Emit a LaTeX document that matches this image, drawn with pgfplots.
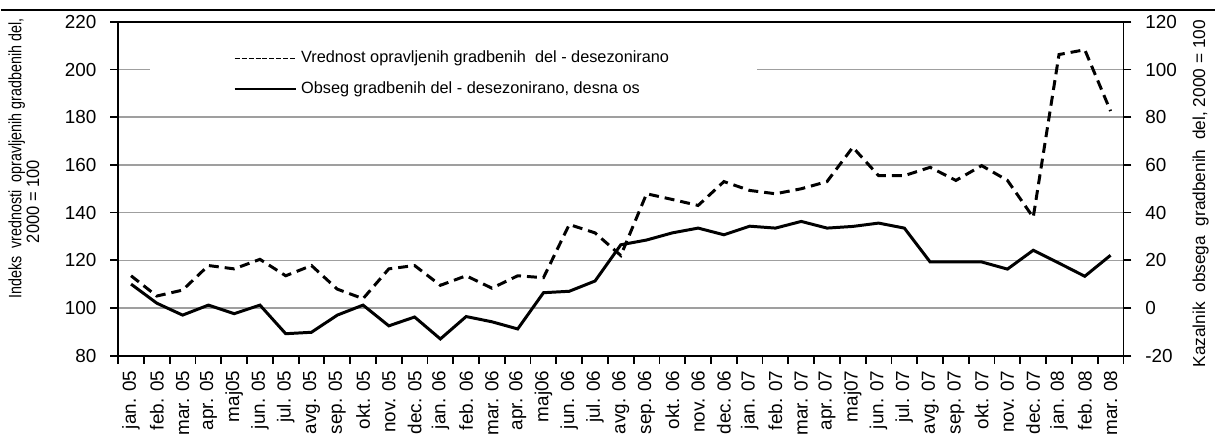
\documentclass[border=0pt]{standalone}
\usepackage{fontspec}
\setmainfont{Liberation Sans}
\usepackage{graphicx}
\usepackage{pgfplots}
\pgfplotsset{compat=1.18}
\pgfplotstableread{
x left right
0 113.5 10
1 105 2
2 107.5 -3
3 117.8 1.2
4 116.4 -2.4
5 120.4 1.2
6 113.5 -10.8
7 117.8 -10.2
8 107.9 -3
9 103.9 1.2
10 116.4 -7.5
11 117.8 -3.8
12 109.5 -13
13 113.5 -3.6
14 108.3 -5.8
15 113.5 -8.8
16 112.7 6.4
17 135 7
18 131.5 11.3
19 122 26.5
20 147.9 28.5
21 145.5 31.5
22 143 33.5
23 153 30.7
24 149.3 34.3
25 147.9 33.5
26 150 36.3
27 153 33.5
28 167.4 34.2
29 155.5 35.6
30 155.5 33.5
31 159 19.3
32 153.5 19.3
33 159.7 19.3
34 153.5 16.3
35 138 24.2
36 206.3 18.8
37 208.3 13.3
38 182.6 22.1
}\datatable
\newcommand{\fs}{\fontsize{9pt}{10pt}\selectfont}
\newcommand{\ft}{\fontsize{9.5pt}{11pt}\selectfont}
\begin{document}
\begin{tikzpicture}
\pgfplotsset{
  common/.style={
    scale only axis, width=506pt, height=168pt,
    xmin=-0.5, xmax=38.5,
    tick align=outside,
    major tick length=4pt,
    axis line style={line width=0.9pt},
    tick style={line width=0.9pt, black},
    tick label style={font=\ft},
    label style={font=\fs},
    /pgf/number format/assume math mode=true,
  }
}
\begin{axis}[common,
  ymin=80, ymax=220, ytick={80,100,...,220},
  ytick pos=left,
  yticklabel style={xshift=-3.5pt},
  xtick={-0.5,0.5,...,38.5},
  x tick label as interval,
  xtick pos=bottom,
  xticklabels={jan. 05,feb. 05,mar. 05,apr. 05,maj05,jun. 05,jul. 05,avg. 05,sep. 05,okt. 05,nov. 05,dec. 05,jan. 06,feb. 06,mar. 06,apr. 06,maj06,jun. 06,jul. 06,avg. 06,sep. 06,okt. 06,nov. 06,dec. 06,jan. 07,feb. 07,mar. 07,apr. 07,maj07,jun. 07,jul. 07,avg. 07,sep. 07,okt. 07,nov. 07,dec. 07,jan. 08,feb. 08,mar. 08},
  xticklabel style={rotate=90, anchor=east, font=\ft},
  ymajorgrids, grid style={line width=0.75pt, gray!75},
  ylabel={\begin{tabular}{@{}l@{}}\scalebox{0.8}[1]{Indeks\ \ vrednosti\ \ opravljenih gradbenih del,}\\[-1pt]\hspace*{28pt}\scalebox{0.92}[1]{2000 = 100}\end{tabular}},
  ylabel style={at={(ticklabel cs:0.59)}},
  ylabel shift=3pt,
  legend style={at={(rel axis cs:0.0316,0.95)}, anchor=north west, draw=none, fill=white,
    inner xsep=42pt, inner ysep=4pt, font=\fontsize{8.2pt}{10pt}\selectfont, row sep=4pt, cells={anchor=west}},
  legend cell align=left,
]
\coordinate (top) at (rel axis cs:0,1);
\addplot[black, line width=1.5pt, dash pattern=on 5pt off 3pt,
  legend image code/.code={\draw[black, line width=0.6pt, dash pattern=on 2.5pt off 1pt] (0pt,0pt) -- (31pt,0pt);}]
  table[x=x, y=left] {\datatable};
\addlegendentry{Vrednost opravljenih gradbenih\ \ del - desezonirano}
\addlegendimage{black, line width=0.9pt, legend image code/.code={\draw[black, line width=0.9pt] (0pt,0pt) -- (31pt,0pt);}}
\addlegendentry{Obseg gradbenih del - desezonirano,\ desna os}
\end{axis}
\begin{axis}[common,
  ymin=-20, ymax=120, ytick={-20,0,...,120},
  axis y line*=right, axis x line=none,
  ytick pos=right,
  yticklabel style={xshift=3.5pt},
  ylabel={Kazalnik\ \ obsega\ \ gradbenih\ \ del, 2000 = 100},
  ylabel style={at={(ticklabel cs:0.485)}, font=\fontsize{8.7pt}{10pt}\selectfont},
  ylabel shift=1pt,
]
\addplot[black, line width=1.5pt] table[x=x, y=right] {\datatable};
\end{axis}
\path (top) ++(0,6pt) coordinate (t2);
\draw[line width=0.8pt] (t2 -| current bounding box.west) -- (t2 -| current bounding box.east);
\path (t2) +(0,5pt) circle (0.01pt);
\end{tikzpicture}
\end{document}
